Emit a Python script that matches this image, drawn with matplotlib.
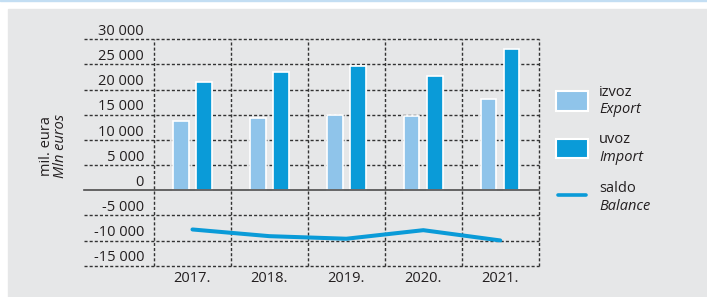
import matplotlib.pyplot as plt
import numpy as np
from matplotlib.patches import Rectangle
from matplotlib.lines import Line2D

# data (mil. eura)
years = ['2017.', '2018.', '2019.', '2020.', '2021.']
export = [13770, 14370, 15020, 14820, 18130]
imports = [21570, 23490, 24740, 22620, 28060]
balance = [-7800, -9130, -9640, -7940, -9980]
yvals = [30000, 25000, 20000, 15000, 10000, 5000, 0, -5000, -10000, -15000]
ylabels = ['30 000', '25 000', '20 000', '15 000', '10 000', '5 000', '0',
           '-5 000', '-10 000', '-15 000']

c_exp = '#8fc4ea'
c_imp = '#0a9bd8'
c_txt = '#231f20'
fs = 10.5

plt.rcParams['font.family'] = ['Open Sans', 'DejaVu Sans']
plt.rcParams['font.size'] = fs

W, H = 707, 297
fig = plt.figure(figsize=(W / 100, H / 100), dpi=100)

# background: thin blue line on top, grey panel
fig.patches.append(Rectangle((0, 1 - 1.4 / H), 1, 1.4 / H, transform=fig.transFigure,
                             color='#c3def3', zorder=-2))
fig.patches.append(Rectangle((8 / W, 0), 1, 1 - 9 / H, transform=fig.transFigure,
                             color='#e6e7e8', zorder=-2))

ax = fig.add_axes([84 / W, 1 - 265.7 / H, 454.7 / W, 226.4 / H])
ax.set_facecolor('none')
for s in ax.spines.values():
    s.set_visible(False)
ax.set_xlim(-1.41, 4.5)
ax.set_ylim(-15000, 30000)

x = np.arange(len(years))
ax.bar(x - 0.15, export, 0.2, color=c_exp, edgecolor='white', linewidth=1.2, zorder=3)
ax.bar(x + 0.15, imports, 0.2, color=c_imp, edgecolor='white', linewidth=1.2, zorder=3)
ax.plot(x, balance, color=c_imp, lw=2.9, solid_capstyle='round', zorder=4)

# grid
for v in yvals:
    if v == 0:
        ax.axhline(0, color='#4d4d4d', lw=1.2, zorder=5, clip_on=False)
    else:
        ax.axhline(v, color='#333333', lw=1.0, dashes=(2.2, 1.5), zorder=1, clip_on=False)
for b in np.arange(-0.5, len(years)):
    ax.axvline(b, color='#333333', lw=1.0, dashes=(2.2, 1.5), zorder=1, clip_on=False)

# y labels sit above their grid lines
for v, lab in zip(yvals, ylabels):
    ax.annotate(lab, xy=(-0.5, v), xytext=(-7.2, 3.1), textcoords='offset points',
                ha='right', va='baseline', color=c_txt, fontsize=fs)

ax.set_yticks([])
ax.set_xticks(x, years)
ax.tick_params(axis='x', length=0, pad=4, labelsize=fs, labelcolor=c_txt)

fig.text(46.7 / W, 1 - 146 / H, 'mil. eura', rotation=90, ha='center', va='center',
         color=c_txt, fontsize=fs)
fig.text(60.5 / W, 1 - 146 / H, 'Mln euros', rotation=90, ha='center', va='center',
         color=c_txt, fontsize=fs, style='italic')

# legend
def fx(px):
    return px / W

def fy(py):
    return 1 - py / H

for top, col in [(91, c_exp), (138.7, c_imp)]:
    fig.patches.append(Rectangle((fx(556), fy(top + 19.7)), 32.3 / W, 19.7 / H,
                                 transform=fig.transFigure, facecolor=col,
                                 edgecolor='white', linewidth=1.5, zorder=2))
fig.lines.append(Line2D([fx(558), fx(586)], [fy(195), fy(195)], transform=fig.transFigure,
                        color=c_imp, lw=2.6, solid_capstyle='round'))

leg_text = [('izvoz', 95.7, 'normal'), ('Export', 113.3, 'italic'),
            ('uvoz', 143.3, 'normal'), ('Import', 161, 'italic'),
            ('saldo', 192.3, 'normal'), ('Balance', 210, 'italic')]
for t, py, st in leg_text:
    fig.text(fx(599.3), fy(py), t, ha='left', va='baseline', color=c_txt,
             fontsize=fs, style=st)

fig.savefig('out.png', dpi=100)
